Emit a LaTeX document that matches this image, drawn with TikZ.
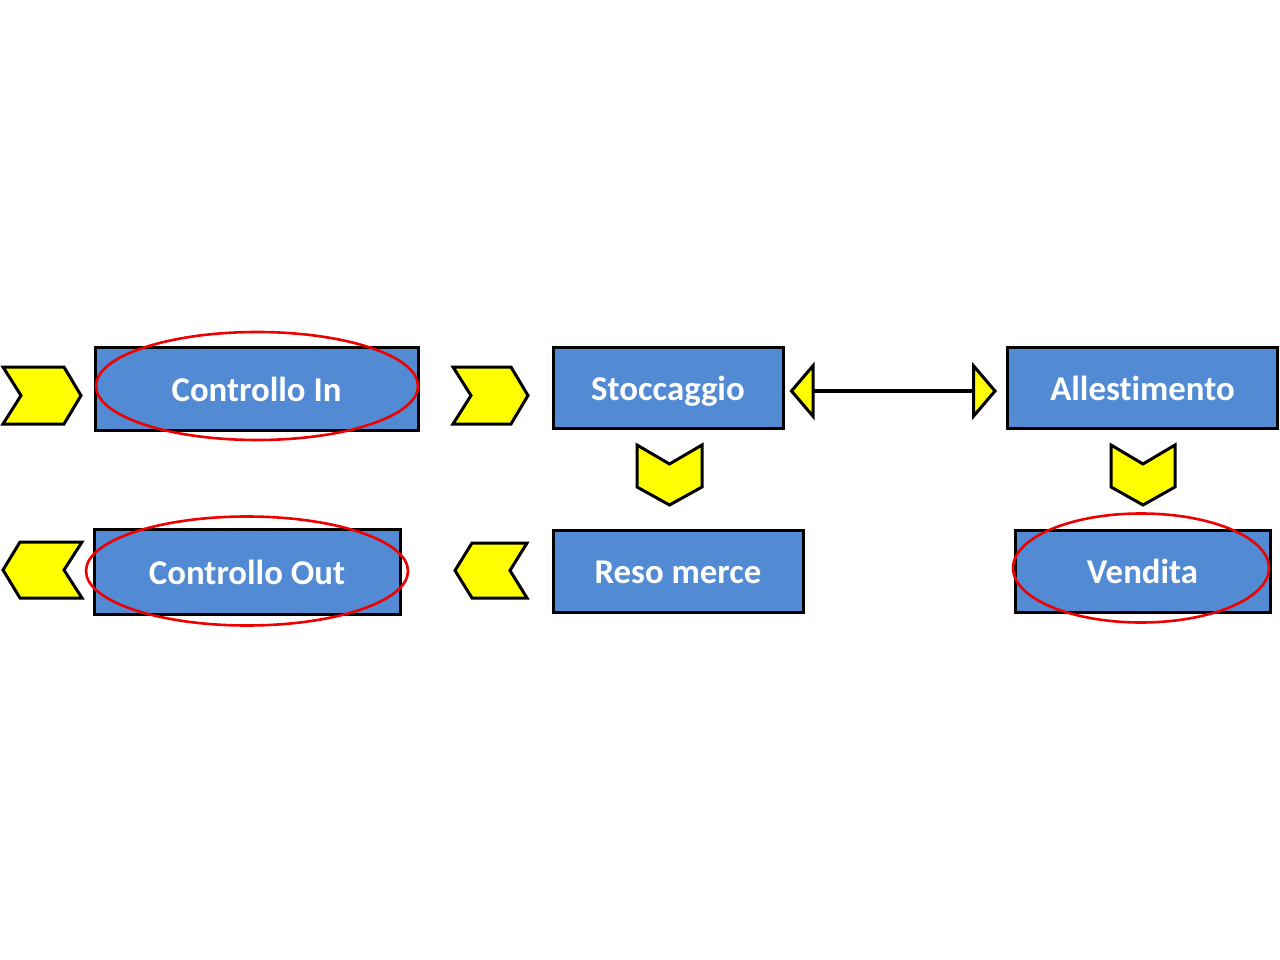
\documentclass[tikz,border=0pt]{standalone}
\usepackage{fontspec}
\setmainfont{Carlito}[Ligatures=NoCommon]
\usetikzlibrary{arrows.meta}
\definecolor{boxblue}{RGB}{82,139,211}
\definecolor{chevyellow}{RGB}{255,255,0}
\definecolor{ringred}{RGB}{238,0,0}
\tikzset{
  stepbox/.style={draw=black, line width=3pt, fill=boxblue, text=white,
    font=\fontsize{34.8}{40}\selectfont\bfseries, inner sep=0pt, anchor=center,
    text height=25pt, text depth=0pt},
  chev/.style={draw=black, line width=3pt, fill=chevyellow, line join=miter},
  ring/.style={draw=ringred, line width=2.6pt},
  biarrow/.style={line width=3.2pt, draw=black,
    {Triangle[length=25pt, width=58pt, fill=chevyellow, line width=3pt]}-{Triangle[length=25pt, width=58pt, fill=chevyellow, line width=3pt]},
    shorten <=5pt, shorten >=9pt}
}
\begin{document}
\begin{tikzpicture}[x=1pt, y=-1pt]
\useasboundingbox (0,0) rectangle (1280,960);
\fill[white] (0,0) rectangle (1280,960);

% boxes
\node[stepbox, minimum width=323pt, minimum height=83pt] (cin) at (256.5,388.5) {Controllo In};
\node[stepbox, minimum width=306pt, minimum height=85pt] (cout) at (247,571.5) {Controllo Out};
\node[stepbox, minimum width=230pt, minimum height=81pt] (stoc) at (668,387.5) {Stoccaggio};
\node[stepbox, minimum width=250pt, minimum height=82pt] (reso) at (678,571) {Reso merce};
\node[stepbox, minimum width=270pt, minimum height=81pt] (alle) at (1142.5,387.5) {Allestimento};
\node[stepbox, minimum width=255pt, minimum height=82pt] (vend) at (1142.5,571) {Vendita};

% chevrons
\draw[chev] (3,367) -- (64,367) -- (81,395.5) -- (64,424) -- (3,424) -- (21,395.5) -- cycle;
\draw[chev] (453,367) -- (511,367) -- (528,395.5) -- (511,424) -- (453,424) -- (471,395.5) -- cycle;
\draw[chev] (82,542) -- (20,542) -- (3,570) -- (20,598) -- (82,598) -- (64,570) -- cycle;
\draw[chev] (527,543) -- (472,543) -- (455,570.5) -- (472,598) -- (527,598) -- (510,570.5) -- cycle;
\draw[chev] (637,445) -- (669.5,464) -- (702,445) -- (702,487) -- (669.5,505) -- (637,487) -- cycle;
\draw[chev] (1111,445) -- (1143,464) -- (1175,445) -- (1175,487) -- (1143,505) -- (1111,487) -- cycle;

% double arrow
\draw[biarrow] ([yshift=-3.5pt]stoc.east) -- ([yshift=-3.5pt]alle.west);

% red rings
\draw[ring] (257,386) ellipse [x radius=161pt, y radius=54pt];
\draw[ring] (247,571) ellipse [x radius=161pt, y radius=54.5pt];
\draw[ring] (1141,568) ellipse [x radius=128pt, y radius=54.5pt];
\end{tikzpicture}
\end{document}
